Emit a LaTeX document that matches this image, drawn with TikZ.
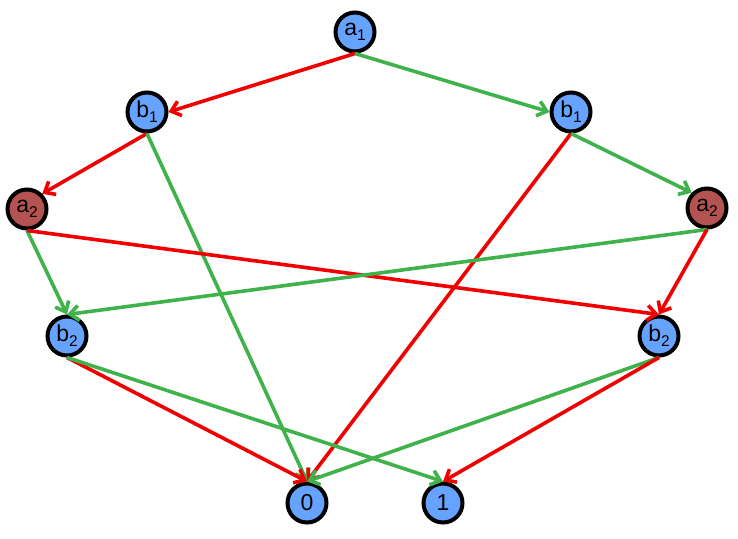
\documentclass[tikz,border=0pt]{standalone}
\usepackage{fontspec}
\setmainfont{Liberation Sans}
\usetikzlibrary{arrows.meta}
\definecolor{nodeblue}{RGB}{102,163,255}
\definecolor{nodered}{RGB}{181,82,82}
\definecolor{hiedge}{RGB}{64,178,76}
\definecolor{loedge}{RGB}{240,0,0}
\newcommand{\lab}[2]{#1\raisebox{-0.4ex}{\fontsize{15.5}{15.5}\selectfont #2}}

\begin{document}
\begin{tikzpicture}[x=1pt,y=-1pt,
  var/.style={circle,draw,line width=4pt,minimum size=39pt,inner sep=0pt,fill=nodeblue,font=\fontsize{23}{23}\selectfont},
  avar/.style={var,fill=nodered},
  edge/.style={line width=3.6pt,-{Straight Barb[length=9pt,width=15pt]}},
  hi/.style={edge,hiedge},
  lo/.style={edge,loedge}]
\useasboundingbox (0,0) rectangle (738,538);
% nodes
\node[var] (a1) at (355,32) {\lab{a}{1}};
\node[var] (b1l) at (147,112) {\lab{b}{1}};
\node[var] (b1r) at (571,112) {\lab{b}{1}};
\node[avar] (a2l) at (27,209) {\lab{a}{2}};
\node[avar] (a2r) at (707,208) {\lab{a}{2}};
\node[var] (b2l) at (67,336) {\lab{b}{2}};
\node[var] (b2r) at (659,336) {\lab{b}{2}};
\node[var] (zero) at (307,503) {0};
\node[var] (one) at (443,503) {1};
% edges
\draw[lo] (a1.south) -- (b1l.east);
\draw[hi] (a1.south) -- (b1r.west);
\draw[lo] (b1l.south) -- (a2l.north east);
\draw[hi] (b1l.south) -- (zero.north);
\draw[lo] (b1r.south) -- (zero.north);
\draw[hi] (b1r.south) -- (a2r.north west);
\draw[hi] (a2l.south) -- (b2l.north);
\draw[lo] (a2l.south) -- (b2r.north);
\draw[hi] (a2r.south) -- (b2l.north);
\draw[lo] (a2r.south) -- (b2r.north);
\draw[lo] (b2l.south) -- (zero.north);
\draw[hi] (b2l.south) -- (one.north);
\draw[hi] (b2r.south) -- (zero.north);
\draw[lo] (b2r.south) -- (one.north);
\end{tikzpicture}
\end{document}
